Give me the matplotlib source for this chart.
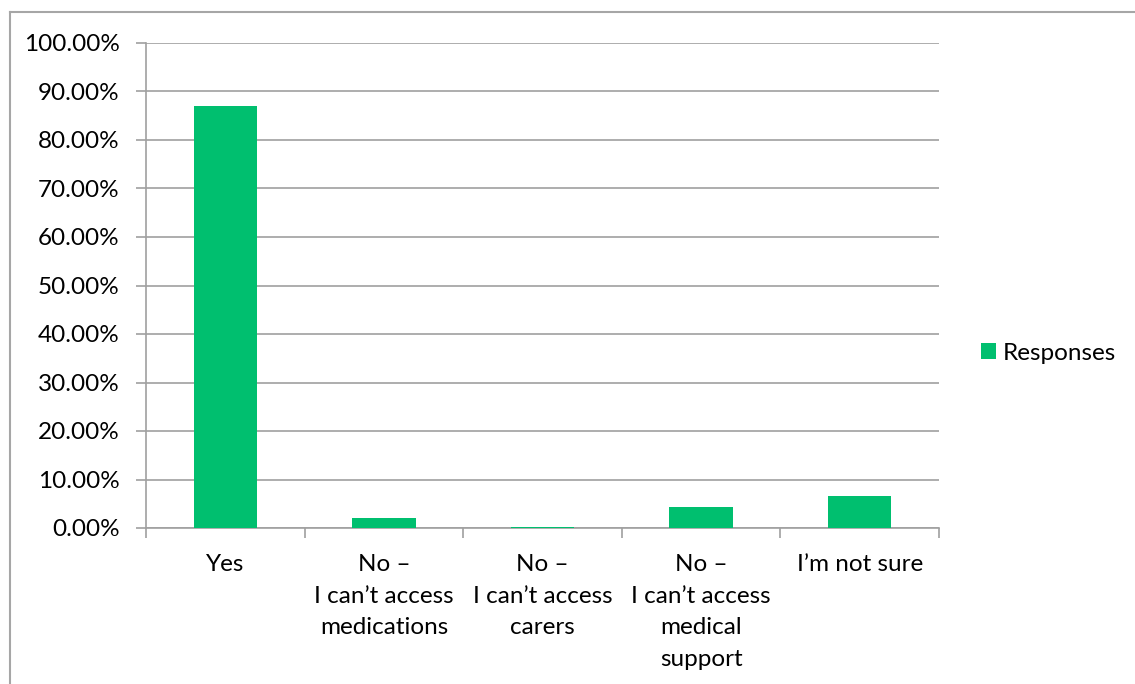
import matplotlib.pyplot as plt
from matplotlib.lines import Line2D
from matplotlib.ticker import FuncFormatter, FixedLocator

categories = [
    "Yes",
    "No –\nI can’t access\nmedications",
    "No –\nI can’t access\ncarers",
    "No –\nI can’t access\nmedical\nsupport",
    "I’m not sure",
]
responses = [87.0, 2.0, 0.2, 4.3, 6.5]
series_name = "Responses"

plt.rcParams["font.family"] = ["Lato", "DejaVu Sans"]
fs = 17.5

fig = plt.figure(figsize=(11.35, 6.84), dpi=100)
ax = fig.add_axes([146 / 1135, 1 - 528 / 684, (939 - 146) / 1135, (528 - 43) / 684])

x = list(range(len(categories)))
ax.bar(x, responses, width=0.4, color="#00BF6F", label=series_name, zorder=3)

ax.set_xlim(-0.5, len(categories) - 0.5)
ax.set_ylim(0, 100)
ax.set_yticks(range(0, 101, 10))
ax.yaxis.set_major_formatter(FuncFormatter(lambda v, p: "{:.2f}%".format(v)))
ax.grid(axis="y", color="#A0A0A0", linewidth=1.2, zorder=0)

ax.set_xticks(x)
ax.set_xticklabels(categories, linespacing=1.62)
ax.xaxis.set_minor_locator(FixedLocator([i - 0.5 for i in range(len(categories) + 1)]))
ax.tick_params(axis="x", which="major", length=0, pad=19, labelsize=fs, colors="black")
ax.tick_params(axis="x", which="minor", length=7, width=1.2, color="#A0A0A0", direction="out")
ax.tick_params(axis="y", length=7, width=1.2, color="#A0A0A0", pad=12, labelsize=fs)

for side in ["top", "right"]:
    ax.spines[side].set_visible(False)
for side in ["left", "bottom"]:
    ax.spines[side].set_color("#A0A0A0")
    ax.spines[side].set_linewidth(1.2)

ax.legend(loc="center left", bbox_to_anchor=(969 / 1135, 1 - 353 / 684),
          bbox_transform=fig.transFigure, frameon=False, fontsize=fs,
          handlelength=0.6, handleheight=0.6, handletextpad=0.3, borderpad=0)

# chart border (left and top edges visible)
fig.add_artist(Line2D([10 / 1135, 10 / 1135], [0, 1 - 12 / 684], transform=fig.transFigure,
                      color="#A6A6A6", linewidth=1.5))
fig.add_artist(Line2D([10 / 1135, 1], [1 - 12 / 684, 1 - 12 / 684], transform=fig.transFigure,
                      color="#A6A6A6", linewidth=1.5))

fig.savefig("out.png", dpi=100)
